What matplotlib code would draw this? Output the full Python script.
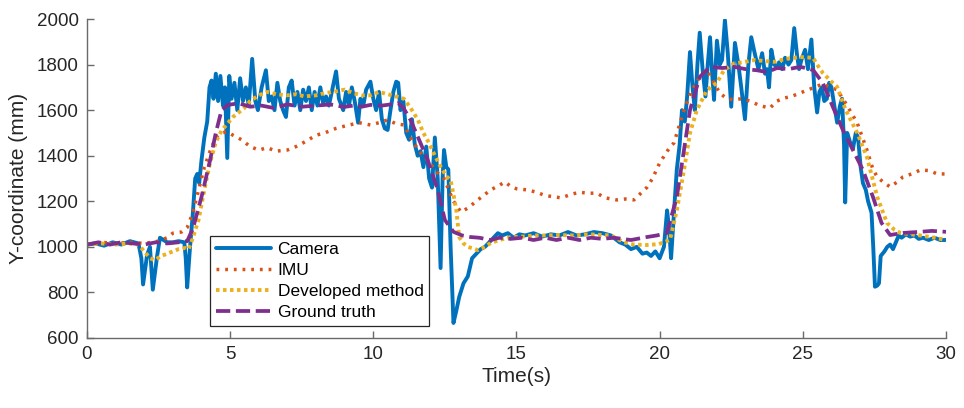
import numpy as np
import matplotlib
matplotlib.use("Agg")
import matplotlib.pyplot as plt

# --- data (time in s, Y in mm) ---
cam_t = [0.0, 0.3, 0.6, 0.9, 1.2, 1.5, 1.8, 1.9, 1.96, 2.1, 2.2, 2.3, 2.45, 2.55, 2.8, 3.0, 3.2, 3.4, 3.45, 3.5,
         3.6, 3.7, 3.78, 3.85, 3.92, 4.0, 4.1, 4.2, 4.28, 4.35, 4.42, 4.5, 4.58, 4.66, 4.75, 4.82, 4.9, 4.97,
         5.05, 5.15, 5.25, 5.35, 5.45, 5.55, 5.65, 5.77, 5.88, 5.97, 6.1, 6.25, 6.35, 6.45, 6.55, 6.65, 6.75,
         6.85, 6.95, 7.05, 7.15, 7.25, 7.35, 7.45, 7.55, 7.65, 7.75, 7.85, 7.95, 8.05, 8.15, 8.25, 8.35, 8.45,
         8.55, 8.7, 8.8, 8.95, 9.05, 9.15, 9.25, 9.35, 9.47, 9.55, 9.65, 9.75, 9.9, 10.0, 10.1, 10.2, 10.3,
         10.4, 10.5, 10.6, 10.7, 10.8, 10.87, 10.95, 11.05, 11.15, 11.25, 11.35, 11.45, 11.55, 11.65, 11.75,
         11.85, 11.95, 12.05, 12.15, 12.25, 12.35, 12.42, 12.47, 12.55, 12.62, 12.7, 12.8, 12.9, 13.0, 13.15,
         13.3, 13.45, 13.6, 13.75, 13.9, 14.05, 14.2, 14.35, 14.5, 14.7, 14.9, 15.1, 15.3, 15.6, 15.9, 16.2,
         16.5, 16.8, 17.1, 17.4, 17.7, 18.0, 18.3, 18.6, 18.8, 19.0, 19.2, 19.4, 19.55, 19.7, 19.85, 20.0,
         20.15, 20.26, 20.33, 20.4, 20.5, 20.6, 20.7, 20.78, 20.88, 20.96, 21.06, 21.15, 21.23, 21.32, 21.4,
         21.5, 21.6, 21.68, 21.76, 21.84, 21.9, 22.0, 22.1, 22.18, 22.28, 22.38, 22.5, 22.63, 22.75, 22.85,
         22.98, 23.1, 23.2, 23.32, 23.45, 23.58, 23.68, 23.75, 23.82, 23.9, 24.0, 24.1, 24.17, 24.28, 24.38,
         24.5, 24.6, 24.7, 24.8, 24.87, 24.95, 25.08, 25.18, 25.3, 25.4, 25.5, 25.58, 25.66, 25.75, 25.84,
         25.92, 26.0, 26.1, 26.2, 26.3, 26.37, 26.44, 26.48, 26.55, 26.65, 26.75, 26.85, 26.93, 27.02, 27.1,
         27.2, 27.28, 27.35, 27.4, 27.46, 27.52, 27.6, 27.66, 27.72, 27.85, 27.95, 28.05, 28.15, 28.25, 28.35,
         28.45, 28.6, 28.75, 28.9, 29.05, 29.2, 29.4, 29.6, 29.8, 30.0]
cam_y = [1010, 1015, 1005, 1020, 1010, 1025, 1015, 950, 835, 965, 1000, 812, 960, 1040, 1020, 1020, 1025, 1020, 950, 822,
         1000, 1150, 1300, 1320, 1280, 1380, 1480, 1550, 1700, 1730, 1650, 1760, 1640, 1750, 1620, 1700, 1390, 1750,
         1650, 1720, 1600, 1740, 1640, 1700, 1620, 1825, 1640, 1600, 1700, 1775, 1640, 1660, 1600, 1720, 1640,
         1600, 1570, 1700, 1730, 1620, 1680, 1600, 1690, 1640, 1700, 1600, 1680, 1620, 1700, 1630, 1660, 1620,
         1680, 1770, 1650, 1600, 1680, 1620, 1700, 1640, 1545, 1650, 1620, 1690, 1725, 1650, 1600, 1680, 1560,
         1520, 1513, 1600, 1680, 1725, 1720, 1600, 1640, 1500, 1470, 1560, 1450, 1400, 1420, 1350,
         1440, 1300, 1260, 1480, 1300, 907, 1300, 1425, 1350, 1340, 1000, 666, 720, 780, 840,
         870, 950, 970, 990, 1000, 1020, 1040, 1060, 1050, 1060, 1040, 1055, 1050, 1060, 1045, 1055,
         1050, 1065, 1050, 1055, 1065, 1060, 1050, 1020, 1010, 990, 1000, 970, 975, 960, 980, 950,
         1000, 1160, 1080, 950, 1150, 1340, 1450, 1600, 1550, 1660, 1855, 1700, 1600, 1800, 1940,
         1780, 1660, 1800, 1920, 1750, 1645, 1905, 1800, 1820, 1995, 1850, 1615, 1895, 1800, 1700,
         1560, 1800, 1920, 1850, 1780, 1850, 1760, 1780, 1700, 1865, 1800, 1790, 1810, 1780, 1830,
         1800, 1820, 1960, 1840, 1780, 1820, 1865, 1780, 1910, 1700, 1590, 1680, 1700, 1640, 1650,
         1720, 1700, 1620, 1545, 1620, 1650, 1450, 1195, 1500, 1460, 1430, 1500, 1480, 1350, 1280,
         1250, 1200, 1170, 1150, 1000, 825, 830, 840, 960, 980, 1000, 1010, 990, 1020, 1050,
         1040, 1055, 1045, 1050, 1035, 1040, 1030, 1040, 1030, 1030]

imu_t = [0.0, 0.5, 1.0, 1.5, 2.0, 2.5, 2.8, 3.0, 3.3, 3.5, 3.7, 3.9, 4.1, 4.3, 4.5, 4.7, 4.9, 5.1, 5.4, 5.7,
         6.0, 6.3, 6.6, 7.0, 7.3, 7.6, 8.0, 8.3, 8.7, 9.0, 9.5, 9.9, 10.2, 10.5, 10.8, 11.07, 11.3, 11.6,
         11.95, 12.2, 12.47, 12.8, 13.06, 13.3, 13.65, 14.1, 14.4, 14.6, 14.8, 15.0, 15.37, 15.7, 16.0, 16.3,
         16.56, 16.9, 17.2, 17.5, 17.8, 18.1, 18.5, 18.8, 19.1, 19.3, 19.55, 19.75, 20.0, 20.36, 20.5, 20.85,
         21.1, 21.4, 21.65, 21.9, 22.1, 22.3, 22.56, 22.85, 23.15, 23.5, 23.85, 24.1, 24.35, 24.6, 24.9,
         25.2, 25.5, 25.7, 25.95, 26.2, 26.5, 26.9, 27.24, 27.45, 27.6, 27.8, 28.05, 28.3, 28.5, 28.8, 29.1,
         29.4, 29.7, 30.0]
imu_y = [1010, 1020, 1015, 1020, 1015, 1025, 1040, 1060, 1065, 1085, 1150, 1250, 1350, 1420, 1480, 1500, 1505, 1490, 1470, 1440,
         1425, 1435, 1420, 1425, 1440, 1460, 1490, 1500, 1520, 1530, 1545, 1535, 1545, 1557, 1540, 1535, 1480, 1420,
         1373, 1330, 1300, 1200, 1153, 1170, 1206, 1250, 1270, 1285, 1265, 1255, 1250, 1240, 1225, 1220,
         1215, 1230, 1240, 1235, 1236, 1215, 1206, 1210, 1206, 1230, 1260, 1300, 1368, 1438, 1456, 1600,
         1680, 1746, 1776, 1720, 1675, 1655, 1645, 1650, 1640, 1620, 1609, 1640, 1653, 1660, 1675,
         1690, 1705, 1715, 1700, 1690, 1630, 1544, 1425, 1340, 1307, 1285, 1263, 1285, 1307, 1320, 1337,
         1335, 1320, 1320]

dev_t = [0.0, 0.5, 1.0, 1.5, 1.8, 2.0, 2.2, 2.37, 2.6, 2.9, 3.2, 3.43, 3.55, 3.7, 3.9, 4.1, 4.3, 4.5, 4.7, 4.9,
         5.1, 5.3, 5.5, 5.7, 6.0, 6.3, 6.6, 7.0, 7.3, 7.6, 8.0, 8.3, 8.6, 9.0, 9.3, 9.6, 9.9, 10.2, 10.5,
         10.8, 11.07, 11.3, 11.56, 11.75, 11.95, 12.15, 12.36, 12.55, 12.7, 12.8, 12.9, 13.0, 13.15, 13.3,
         13.65, 13.9, 14.1, 14.4, 14.8, 15.2, 15.6, 16.0, 16.5, 17.0, 17.5, 18.0, 18.3, 18.75, 19.1, 19.55,
         19.97, 20.36, 20.6, 20.85, 21.06, 21.3, 21.65, 22.0, 22.25, 22.6, 22.9, 23.3, 23.7, 24.0, 24.4,
         24.9, 25.36, 25.5, 25.7, 26.0, 26.2, 26.5, 26.9, 27.24, 27.6, 27.94, 28.2, 28.4, 28.8, 29.1, 29.6,
         30.0]
dev_y = [1010, 1015, 1010, 1015, 1010, 980, 950, 942, 960, 975, 990, 995, 990, 1040, 1120, 1250, 1370, 1460, 1510, 1540,
         1570, 1590, 1610, 1640, 1665, 1680, 1670, 1665, 1670, 1660, 1665, 1675, 1680, 1690, 1675, 1665, 1665, 1680, 1670,
         1660, 1650, 1610, 1557, 1500, 1455, 1400, 1350, 1310, 1293, 1230, 1160, 1043, 1015, 1000,
         986, 1000, 1017, 1030, 1043, 1045, 1050, 1050, 1052, 1050, 1055, 1052, 1050, 1020, 1010, 1008,
         1012, 1030, 1160, 1337, 1500, 1600, 1688, 1720, 1776, 1805, 1810, 1820, 1815, 1812, 1825,
         1833, 1830, 1800, 1763, 1725, 1702, 1600, 1500, 1394, 1219, 1105, 1075, 1061, 1055, 1050, 1040,
         1030]

gt_t = [0.0, 0.4, 0.8, 1.2, 1.6, 2.0, 2.4, 2.8, 3.2, 3.5, 3.7, 4.0, 4.3, 4.5, 4.7, 4.92, 5.3, 5.7, 6.1, 6.5,
        7.0, 7.5, 8.0, 8.5, 8.98, 9.3, 9.6, 9.9, 10.3, 10.6, 10.86, 11.05, 11.3, 11.6, 11.9, 12.25, 12.5,
        12.8, 13.1, 13.4, 13.7, 14.1, 14.4, 14.8, 15.2, 15.6, 16.0, 16.4, 16.8, 17.2, 17.6, 18.0, 18.4, 19.0,
        19.55, 19.9, 20.25, 20.6, 20.85, 21.06, 21.4, 21.76, 22.2, 22.6, 23.0, 23.4, 23.75, 24.1, 24.5, 24.9,
        25.1, 25.36, 25.7, 26.05, 26.4, 26.75, 27.1, 27.45, 27.75, 28.05, 28.5, 29.1, 29.5, 30.0]
gt_y = [1010, 1020, 1010, 1020, 1015, 1010, 1020, 1015, 1020, 1025, 1080, 1219, 1380, 1500, 1600, 1623, 1630, 1615, 1620, 1610,
        1625, 1615, 1620, 1625, 1614, 1620, 1615, 1623, 1620, 1625, 1631, 1610, 1557, 1470, 1381, 1250, 1118,
        1066, 1050, 1043, 1040, 1030, 1040, 1035, 1040, 1030, 1040, 1030, 1040, 1030, 1040, 1035, 1040, 1030,
        1043, 1050, 1061, 1219, 1425, 1600, 1746, 1790, 1785, 1790, 1780, 1775, 1767, 1785, 1780, 1790,
        1785, 1776, 1719, 1614, 1513, 1425, 1337, 1219, 1105, 1052, 1061, 1066, 1070, 1066]

plt.rcParams['font.family'] = ['Liberation Sans', 'DejaVu Sans']

fig = plt.figure(figsize=(9.64, 4.08), dpi=100)
ax = fig.add_axes([0.0902, 0.1716, 0.8911, 0.7818])

ax.plot(cam_t, cam_y, color='#0072BD', lw=2.8, label='Camera',
        solid_joinstyle='round', solid_capstyle='round')
ax.plot(imu_t, imu_y, color='#D95319', lw=2.5, linestyle=(0, (0.8, 1.7)), label='IMU')
ax.plot(dev_t, dev_y, color='#EDB120', lw=2.8, linestyle=(0, (0.9, 0.9)), label='Developed method')
ax.plot(gt_t, gt_y, color='#7E2F8E', lw=2.7, linestyle=(0, (3.8, 1.5)), label='Ground truth')

ax.set_xlim(0, 30)
ax.set_ylim(600, 2000)
ax.set_xticks(np.arange(0, 31, 5))
ax.set_yticks(np.arange(600, 2001, 200))
ax.spines['top'].set_visible(False)
ax.spines['right'].set_visible(False)
for s in ['left', 'bottom']:
    ax.spines[s].set_color('#6a6a6a')
    ax.spines[s].set_linewidth(1.0)
ax.tick_params(direction='in', length=5, width=1.0, color='#6a6a6a',
               labelsize=13.5, labelcolor='#262626', pad=6)
ax.set_xlabel('Time(s)', fontsize=15, color='#262626', labelpad=3)
ax.set_ylabel('Y-coordinate (mm)', fontsize=15, color='#262626', labelpad=6)

leg = ax.legend(loc='lower left', bbox_to_anchor=(0.143, 0.0376), borderaxespad=0,
                fontsize=12.5, handlelength=3.2, handletextpad=0.35, labelspacing=0.33,
                borderpad=0.35, fancybox=False, framealpha=1, edgecolor='#262626')
leg.get_frame().set_linewidth(0.9)

fig.savefig('out.png', dpi=100)
